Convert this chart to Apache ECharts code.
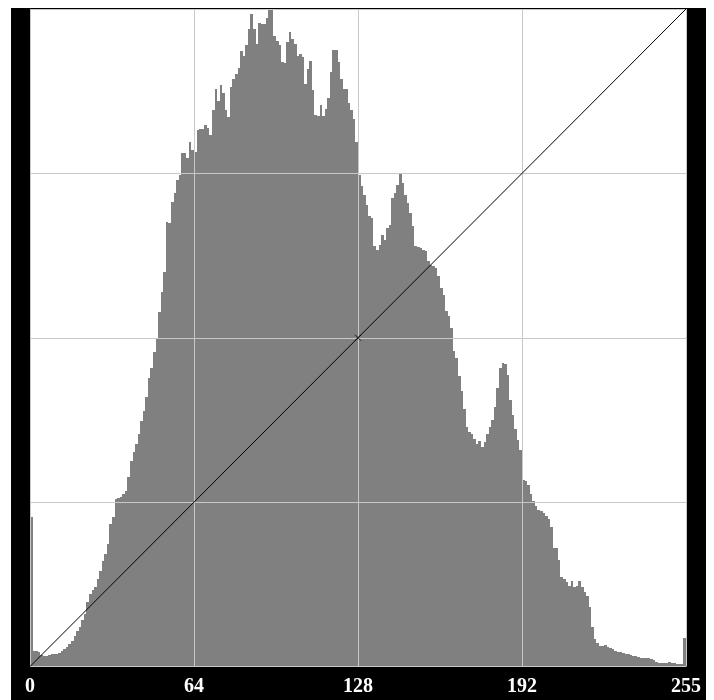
<!DOCTYPE html>
<html>
<head>
<meta charset="utf-8">
<script src="https://cdn.jsdelivr.net/npm/echarts@6/dist/echarts.min.js"></script>
<style>
  html, body { margin: 0; padding: 0; background: #ffffff; width: 714px; height: 700px; overflow: hidden; }
  #chart { position: absolute; left: 11px; top: 8px; width: 695px; height: 692px; }
</style>
</head>
<body>
<div id="chart"></div>
<script>
// Histogram counts per level (0..255)
var levels0to63 = [150,16,16,15,12,11,11,12,13,13,13,14,16,18,20,23,26,31,36,40,47,53,65,73,77,80,88,96,106,113,123,143,150,168,169,170,173,176,190,206,215,223,233,246,256,271,290,300,316,330,356,376,396,446,445,466,475,488,493,515,515,510,526,518];
var levels64to127 = [516,539,540,540,544,541,534,559,580,568,584,576,559,552,582,590,595,601,618,613,624,640,655,640,625,646,645,645,651,660,660,633,628,624,607,606,627,637,630,625,613,615,612,585,600,608,579,554,553,564,553,560,571,597,619,619,607,590,580,580,566,559,550,526];
var levels128to191 = [493,482,473,463,452,450,422,418,423,433,428,440,443,470,475,483,494,485,473,465,455,442,422,421,420,418,417,407,403,402,400,392,380,373,357,352,340,317,310,292,277,258,240,235,233,228,223,226,220,225,233,240,247,260,280,300,305,304,293,268,252,238,227,217];
var levels192to255 = [187,186,182,173,166,161,157,156,154,151,148,140,119,119,107,90,88,85,81,86,80,81,86,80,75,71,60,40,28,24,21,21,22,20,19,18,16,15,15,14,13,13,12,11,11,10,9,9,9,9,8,7,5,4,4,4,4,5,4,4,3,3,3,29];
var tickValues = [0, 64, 128, 192, 256];
var tickLabels = ['0', '64', '128', '192', '255'];
var diagonal = [[0, 0], [256, 660]];
var midMark = [[128, 330]];

var counts = levels0to63.concat(levels64to127, levels128to191, levels192to255);
var histData = counts.map(function (v, i) { return [i, v]; });

function renderBin(params, api) {
  var level = api.value(0);
  var count = api.value(1);
  var p0 = api.coord([level, 0]);
  var p1 = api.coord([level + 1, count]);
  var x0 = Math.round(p0[0]);
  var x1 = Math.round(p1[0]);
  var yTop = Math.round(p1[1]);
  var yBase = p0[1];
  return {
    type: 'rect',
    shape: { x: x0, y: yTop, width: x1 - x0, height: yBase - yTop },
    style: { fill: '#808080' }
  };
}

var chart = echarts.init(document.getElementById('chart'), null, { renderer: 'canvas' });
chart.setOption({
  animation: false,
  backgroundColor: '#000000',
  grid: { left: 19, right: 20, top: 1, bottom: 33.5, show: true, backgroundColor: '#ffffff', borderWidth: 0 },
  xAxis: {
    type: 'value', min: 0, max: 256, interval: 64, z: 3,
    axisLine: { show: false }, axisTick: { show: false },
    splitLine: { show: true, lineStyle: { color: '#c8c8c8', width: 1 } },
    axisLabel: {
      color: '#ffffff', fontFamily: 'Liberation Serif', fontWeight: 'bold', fontSize: 20, margin: 10,
      formatter: function (v) { var k = tickValues.indexOf(v); return k >= 0 ? tickLabels[k] : ''; }
    }
  },
  yAxis: {
    type: 'value', min: 0, max: 660, interval: 165, z: 3,
    axisLine: { show: false }, axisTick: { show: false }, axisLabel: { show: false },
    splitLine: { show: true, lineStyle: { color: '#c8c8c8', width: 1 } }
  },
  series: [
    {
      type: 'custom', data: histData, renderItem: renderBin, encode: { x: 0, y: 1 }, z: 2
    },
    {
      type: 'line', data: diagonal, showSymbol: false, symbol: 'none',
      lineStyle: { color: '#000000', width: 1 }, z: 5
    },
    {
      type: 'scatter', data: midMark, symbol: 'path://M0,0L10,10M10,0L0,10', symbolSize: 6,
      itemStyle: { color: 'rgba(0,0,0,0)', borderColor: '#000000', borderWidth: 1 }, z: 6
    }
  ]
});
</script>
</body>
</html>
